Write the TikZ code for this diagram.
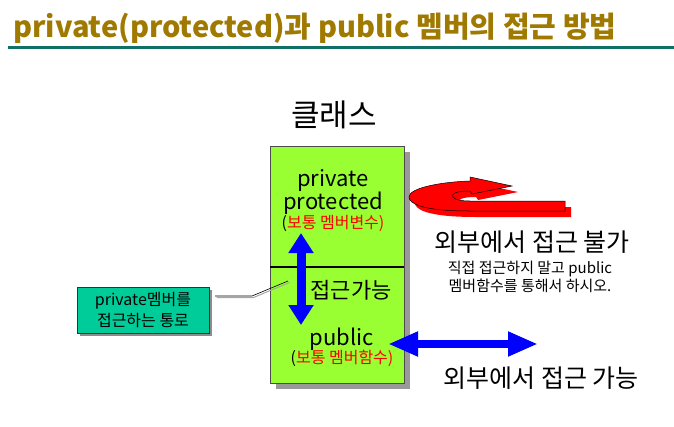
\documentclass[tikz,border=0pt]{standalone}
\usepackage{fontspec}
\setmainfont{Noto Sans CJK KR}
\usetikzlibrary{arrows.meta,shadows}
\definecolor{titlegold}{RGB}{160,122,0}
\definecolor{ruleteal}{RGB}{16,112,104}
\definecolor{boxgreen}{RGB}{153,255,51}
\definecolor{notegreen}{RGB}{0,204,153}
\tikzset{
  bigtxt/.style={font=\fontsize{25}{28}\selectfont},
  midtxt/.style={font=\fontsize{22}{23}\selectfont, align=center},
  smalltxt/.style={font=\fontsize{15}{18}\selectfont, align=center},
  redtxt/.style={font=\fontsize{16}{18}\selectfont, text=red},
  fatarrow/.style={blue, line width=9pt,
    {Triangle[length=20pt,width=24pt]}-{Triangle[length=20pt,width=24pt]}},
}
\begin{document}
\begin{tikzpicture}[x=1pt,y=-1pt]
\useasboundingbox (0,0) rectangle (674,426);
% title
\node[anchor=base west, inner sep=0, text=titlegold,
  font=\bfseries\fontsize{29}{31}\selectfont] (title) at (13,37)
  {private(protected)과 public 멤버의 접근 방법};
\draw[ruleteal, line width=3pt] (8,47) -- (674,47);

% class box
\node[font=\fontsize{31}{33}\selectfont] (clsname) at (334,115) {클래스};
\node[draw=black!70, fill=boxgreen, minimum width=134pt, minimum height=237pt,
  inner sep=0, drop shadow={shadow xshift=6pt, shadow yshift=-6pt,
  fill=black!40, opacity=1}] (cls) at (337,264.5) {};
\draw[line width=2.5pt] (270,267) -- (404,267);
\node[midtxt] (priv) at (333,192) {private\\protected};
\node[redtxt] (privnote) at (333,223) {{\color{black}(}보통 멤버변수)};
\node[midtxt] (path) at (351,290) {접근가능};
\node[midtxt] (pub) at (342,339) {public};
\node[redtxt] (pubnote) at (342,358) {{\color{black}(}보통 멤버함수)};

% inner path arrow
\coordinate (vtop) at (301,233);
\coordinate (vbot) at (301,325);
\draw[fatarrow] (vtop) -- (vbot);

% no access from outside
\fill[red] (571,207) -- (571,217) -- (476,217)
  .. controls (426,217) and (415,209) .. (415,203)
  .. controls (415,194) and (446,188) .. (476,187) -- (476,183)
  -- (518,192) -- (478,200) -- (476,197)
  .. controls (461,197) and (457,200) .. (459,203)
  .. controls (461,206) and (468,207) .. (476,207) -- cycle;
\filldraw[fill=red, draw=black, line width=0.5pt] (565,201) -- (565,211) -- (470,211)
  .. controls (420,211) and (409,203) .. (409,197)
  .. controls (409,188) and (440,182) .. (470,181) -- (470,177)
  -- (512,186) -- (472,194) -- (470,191)
  .. controls (455,191) and (451,194) .. (453,197)
  .. controls (455,200) and (462,201) .. (470,201) -- cycle;
\node[bigtxt] (noacc) at (532,242) {외부에서 접근 불가};
\node[smalltxt] (hint) at (530,277) {직접 접근하지 말고 public\\멤버함수를 통해서 하시오.};

% access from outside
\coordinate (hl) at (388,344);
\coordinate (hr) at (538,344);
\draw[fatarrow, line width=8pt,
  {Triangle[length=30pt,width=23pt]}-{Triangle[length=30pt,width=23pt]}] (hl) -- (hr);
\node[bigtxt] (acc) at (541,378) {외부에서 접근 가능};

% callout
\node[draw=black!80, fill=notegreen, minimum width=132pt, minimum height=46pt,
  inner sep=0, align=center, font=\fontsize{16}{21}\selectfont,
  drop shadow={shadow xshift=3pt, shadow yshift=-3pt, fill=black!45, opacity=1}]
  (note) at (143,310) {private멤버를\\접근하는 통로};
\coordinate (lnA) at (215,296);
\coordinate (lnB) at (252,296);
\coordinate (lnC) at (288,281);
\draw[black!35, line width=1pt, transform canvas={shift={(1.5pt,-1.5pt)}}]
  (lnA) -- (lnB) -- (lnC);
\draw[black, line width=0.6pt] (lnA) -- (lnB) -- (lnC);
\end{tikzpicture}
\end{document}
